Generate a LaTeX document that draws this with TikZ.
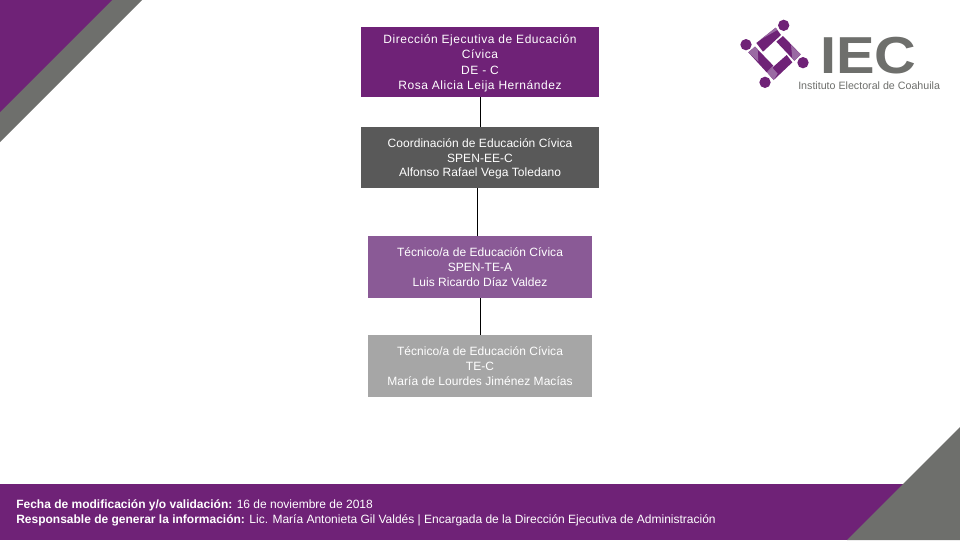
\documentclass[tikz,border=0pt]{standalone}
\usepackage{fontspec}
\setmainfont{Liberation Sans}
\newfontfamily\logofont{Liberation Sans}
\definecolor{iecpurple}{HTML}{6F2277}
\definecolor{iecgray}{HTML}{6E6F6C}
\definecolor{darkbox}{HTML}{595959}
\definecolor{midpurple}{HTML}{8A5A96}
\definecolor{lightbox}{HTML}{A6A6A6}
\definecolor{sheen}{HTML}{9A6AA3}
\newcommand{\toppad}{\rule{0pt}{8.8pt}}
\tikzset{
  px/.style={x=0.75pt,y=-0.75pt},
  orgbox/.style={rectangle,inner sep=0pt,text=white,align=center,font=\fontsize{9pt}{11.1pt}\selectfont\addfontfeature{LetterSpace=0.4}},
  widebox/.style={orgbox,font=\fontsize{9pt}{11.2pt}\selectfont\addfontfeature{LetterSpace=4.5}},
  link/.style={draw=black,line width=0.75pt},
  logobar/.style={fill=iecpurple},
  logosheen/.style={fill=sheen},
  logodot/.style={fill=iecpurple},
  foot/.style={inner sep=0pt,anchor=west,text=white,font=\fontsize{9pt}{11pt}\selectfont,align=left}
}
\begin{document}
\begin{tikzpicture}[px]
\useasboundingbox (0,0) rectangle (960,540);
\fill[white] (0,0) rectangle (960,540);
% corners
\fill[iecgray] (0,0) -- (142,0) -- (0,142) -- cycle;
\fill[iecpurple] (0,0) -- (112,0) -- (0,112) -- cycle;
\fill[iecpurple] (0,484) rectangle (960,540);
\fill[iecgray] (960,427) -- (960,540) -- (847,540) -- cycle;
% boxes
\node[widebox,fill=iecpurple,minimum width=178.5pt,minimum height=52.5pt] (de) at (480,62)
  {\toppad Dirección Ejecutiva de Educación\\[0.4pt]Cívica\\[0.4pt]DE - C\\[0.4pt]Rosa Alicia Leija Hernández};
\node[orgbox,fill=darkbox,minimum width=178.5pt,minimum height=45.75pt] (co) at (480,157.5)
  {\toppad Coordinación de Educación Cívica\\SPEN-EE-C\\Alfonso Rafael Vega Toledano};
\node[orgbox,fill=midpurple,minimum width=168pt,minimum height=46.5pt] (ta) at (480,267)
  {Técnico/a de Educación Cívica\\SPEN-TE-A\\Luis Ricardo Díaz Valdez};
\node[orgbox,fill=lightbox,minimum width=168pt,minimum height=46.5pt] (tc) at (480,366)
  {Técnico/a de Educación Cívica\\TE-C\\María de Lourdes Jiménez Macías};
% connectors
\draw[link] (de.south) -- (co.north);
\draw[link] ([xshift=-2.25pt]co.south) -- ([xshift=-2.25pt]ta.north);
\draw[link] (ta.south) -- (tc.north);
% footer
\node[foot] (f1) at (16,505) {\textbf{Fecha de modificación y/o validación:} 16 de noviembre de 2018};
\node[foot] (f2) at (16,520) {\textbf{Responsable de generar la información:} Lic. María Antonieta Gil Valdés | Encargada de la Dirección Ejecutiva de Administración};
% logo
\begin{scope}[shift={(735,15)},x=0.25pt,y=-0.25pt]
  \fill[logobar] (64,84) -- (122,38) -- (138,60) -- (84,110) -- cycle;
  \fill[logosheen] (78,73) -- (122,38) -- (127,45) -- cycle;
  \fill[logobar] (124,80) -- (144,63) -- (197,118) -- (178,137) -- cycle;
  \fill[logosheen] (168,90) -- (197,118) -- (178,137) -- (172,130) -- cycle;
  \fill[logobar] (96,172) -- (155,120) -- (172,142) -- (116,195) -- cycle;
  \fill[logosheen] (96,172) -- (112,158) -- (128,176) -- (116,195) -- cycle;
  \fill[logobar] (40,112) -- (60,95) -- (115,152) -- (95,172) -- cycle;
  \fill[logosheen] (40,112) -- (60,95) -- (68,103) -- (70,140) -- cycle;
  \fill[logodot] (146,31) circle[radius=17];
  \fill[logodot] (33,89) circle[radius=17];
  \fill[logodot] (204,143) circle[radius=17];
  \fill[logodot] (90,202) circle[radius=17];
\end{scope}
\node[inner sep=0pt,anchor=base west,text=iecgray,xscale=1.11,font=\logofont\bfseries\fontsize{39pt}{39pt}\selectfont] (iec) at (820,73) {IEC};
\node[inner sep=0pt,anchor=base west,text=iecgray,font=\logofont\fontsize{8pt}{8pt}\selectfont] (iecname) at (798,89) {Instituto Electoral de Coahuila};
\end{tikzpicture}
\end{document}
